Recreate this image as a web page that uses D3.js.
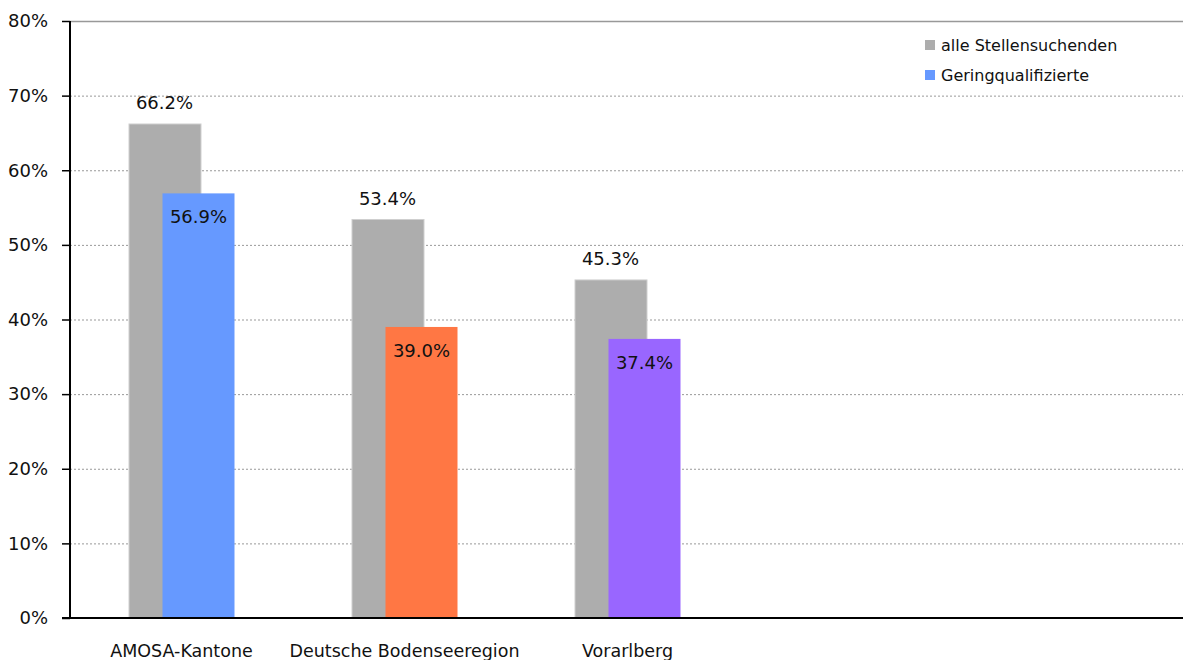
<!DOCTYPE html>
<html><head><meta charset="utf-8">
<script src="https://cdn.jsdelivr.net/npm/d3@7/dist/d3.min.js"></script>
<style>body{margin:0;background:#fff;}svg{display:block;font-family:"DejaVu Sans",sans-serif;}</style>
</head><body><svg id="c" width="1183" height="660"></svg>
<script>
const categories = ["AMOSA-Kantone", "Deutsche Bodenseeregion", "Vorarlberg", "", " "];
const alleValues = [66.2, 53.4, 45.3];
const geringValues = [56.9, 39.0, 37.4];
const geringColors = ["#6699ff", "#ff7744", "#9966ff"];
const seriesNames = ["alle Stellensuchenden", "Geringqualifizierte"];
const yTicks = [0, 10, 20, 30, 40, 50, 60, 70, 80];

const svg = d3.select("#c");
const pLeft = 70, pRight = 1185, pTop = 21, pBottom = 618;
const x = d3.scaleBand().domain(categories).range([pLeft, pRight]);
const y = d3.scaleLinear().domain([0, 80]).range([pBottom, pTop]);
const barW = 72, offset = 34;

// gridlines
svg.append("g").selectAll("line").data(yTicks.filter(t => t > 0)).join("line")
  .attr("x1", pLeft).attr("x2", pRight)
  .attr("y1", d => y(d) + 0.5).attr("y2", d => y(d) + 0.5)
  .attr("stroke", "#999")
  .attr("stroke-width", d => d === 80 ? 1.5 : 1)
  .attr("stroke-dasharray", d => d === 80 ? null : "2,2");

// y axis
const yAxis = d3.axisLeft(y).tickValues(yTicks).tickFormat(d => d + "%").tickSize(8).tickPadding(14);
const ga = svg.append("g").attr("transform", `translate(${pLeft},0)`).call(yAxis);
ga.select(".domain").remove();
ga.selectAll(".tick line").attr("stroke", "#000").attr("stroke-width", 1.5);
ga.selectAll(".tick text").attr("font-size", 18).attr("fill", "#111").attr("font-family", "DejaVu Sans, sans-serif");
svg.append("line").attr("x1", pLeft).attr("x2", pLeft).attr("y1", pTop).attr("y2", pBottom)
  .attr("stroke", "#000").attr("stroke-width", 2);

// bars
const gx = (i) => x(categories[i]) + x.bandwidth() / 2 - (barW + offset) / 2;
svg.append("g").selectAll("rect").data(alleValues).join("rect")
  .attr("x", (d, i) => gx(i) + 0.5)
  .attr("y", d => y(d))
  .attr("width", barW).attr("height", d => pBottom - y(d))
  .attr("fill", "#adadad").attr("stroke", "#cfcfcf").attr("stroke-width", 1);
svg.append("g").selectAll("rect").data(geringValues).join("rect")
  .attr("x", (d, i) => gx(i) + offset)
  .attr("y", d => y(d))
  .attr("width", barW).attr("height", d => pBottom - y(d))
  .attr("fill", (d, i) => geringColors[i]);

// labels
svg.append("g").selectAll("text").data(alleValues).join("text")
  .attr("x", (d, i) => gx(i) + barW / 2)
  .attr("y", d => y(d) - 15)
  .attr("text-anchor", "middle").attr("font-size", 18).attr("fill", "#111")
  .text(d => d.toFixed(1) + "%");
svg.append("g").selectAll("text").data(geringValues).join("text")
  .attr("x", (d, i) => gx(i) + offset + barW / 2)
  .attr("y", d => y(d) + 30)
  .attr("text-anchor", "middle").attr("font-size", 18).attr("fill", "#111")
  .text(d => d.toFixed(1) + "%");

// x axis
svg.append("line").attr("x1", pLeft - 8).attr("x2", pRight).attr("y1", pBottom).attr("y2", pBottom)
  .attr("stroke", "#000").attr("stroke-width", 2);
svg.append("g").selectAll("text").data(categories.slice(0, 3)).join("text")
  .attr("x", d => x(d) + x.bandwidth() / 2)
  .attr("y", 657)
  .attr("text-anchor", "middle").attr("font-size", 17.5).attr("fill", "#111")
  .text(d => d);

// legend
const leg = svg.append("g");
const legColors = ["#adadad", "#6699ff"];
seriesNames.forEach((n, i) => {
  leg.append("rect").attr("x", 925).attr("y", 40 + i * 30).attr("width", 10).attr("height", 10).attr("fill", legColors[i]);
  leg.append("text").attr("x", 941).attr("y", 51 + i * 30).attr("font-size", 16).attr("fill", "#111").text(n);
});
</script></body></html>
